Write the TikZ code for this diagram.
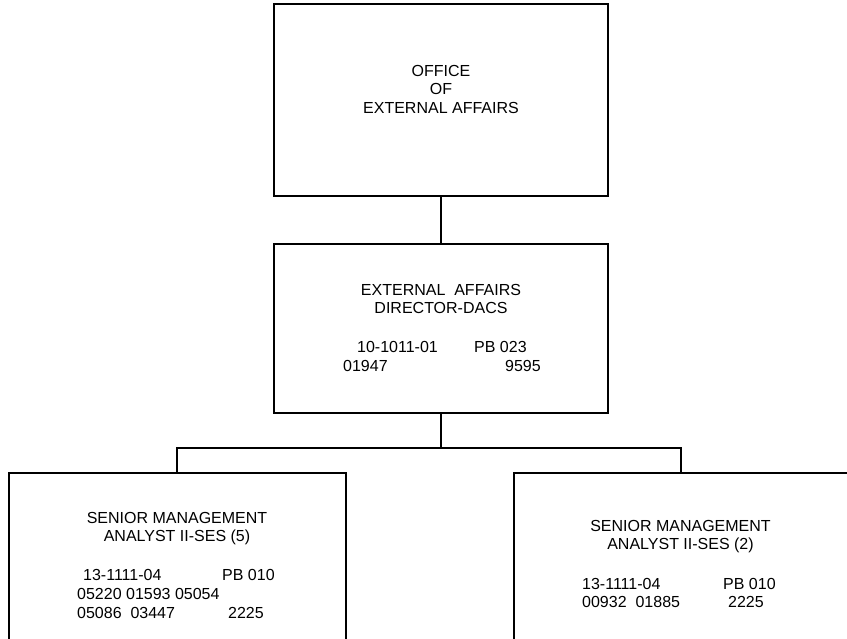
\documentclass[tikz,border=0pt]{standalone}
\usepackage{fontspec}
\setmainfont{Liberation Sans}
\begin{document}
\begin{tikzpicture}[x=1pt,y=-1pt,
  box/.style={draw=black,line width=2pt,inner sep=0pt,anchor=north west},
  wire/.style={draw=black,line width=2pt},
  lbl/.style={inner sep=0pt,anchor=base,font=\fontsize{16}{18.4}\selectfont},
  lblw/.style={lbl,anchor=base west}]
\useasboundingbox (0,0) rectangle (847,639);
\fill[white] (0,0) rectangle (847,639);
% boxes (the lower two run past the page edge)
\node[box,minimum width=334pt,minimum height=192pt] (office) at (273,3) {};
\node[box,minimum width=334pt,minimum height=169pt] (director) at (273,243) {};
\node[box,minimum width=337pt,minimum height=200pt] (smaL) at (8,472) {};
\node[box,minimum width=360pt,minimum height=200pt] (smaR) at (513,472) {};
% connectors
\coordinate (bus) at (441,448);
\coordinate (busL) at (177,448);
\coordinate (busR) at (681,448);
\draw[wire] (office.south -| bus) -- (director.north -| bus);
\draw[wire,line join=miter] (director.south -| bus) -- (bus);
\draw[wire,line join=miter] (busL |- smaL.north) -- (busL) -- (busR) -- (busR |- smaR.north);
% top office
\node[lbl] (t1) at (441,76.5) {OFFICE};
\node[lbl] (t2) at (441,95) {OF};
\node[lbl] (t3) at (441,113.5) {EXTERNAL AFFAIRS};
% director
\node[lbl] (d1) at (441,296) {EXTERNAL\ \ AFFAIRS};
\node[lbl] (d2) at (441,314) {DIRECTOR-DACS};
\node[lblw] (d3) at (357,353) {10-1011-01};
\node[lblw] (d4) at (474,353) {PB 023};
\node[lblw] (d5) at (343,372) {01947};
\node[lblw] (d6) at (505,372) {9595};
% left analyst box
\node[lbl] (l1) at (177,523) {SENIOR MANAGEMENT};
\node[lbl] (l2) at (177,541) {ANALYST II-SES (5)};
\node[lblw] (l3) at (83,580) {13-1111-04};
\node[lblw] (l4) at (222,580) {PB 010};
\node[lblw] (l5) at (77,599) {05220 01593 05054};
\node[lblw] (l6) at (77,618) {05086\ \ 03447};
\node[lblw] (l7) at (228,618) {2225};
% right analyst box
\node[lbl] (r1) at (680.5,531) {SENIOR MANAGEMENT};
\node[lbl] (r2) at (680.5,549) {ANALYST II-SES (2)};
\node[lblw] (r3) at (582,589) {13-1111-04};
\node[lblw] (r4) at (723,589) {PB 010};
\node[lblw] (r5) at (582,607) {00932\ \ 01885};
\node[lblw] (r6) at (728,607) {2225};
\end{tikzpicture}
\end{document}
